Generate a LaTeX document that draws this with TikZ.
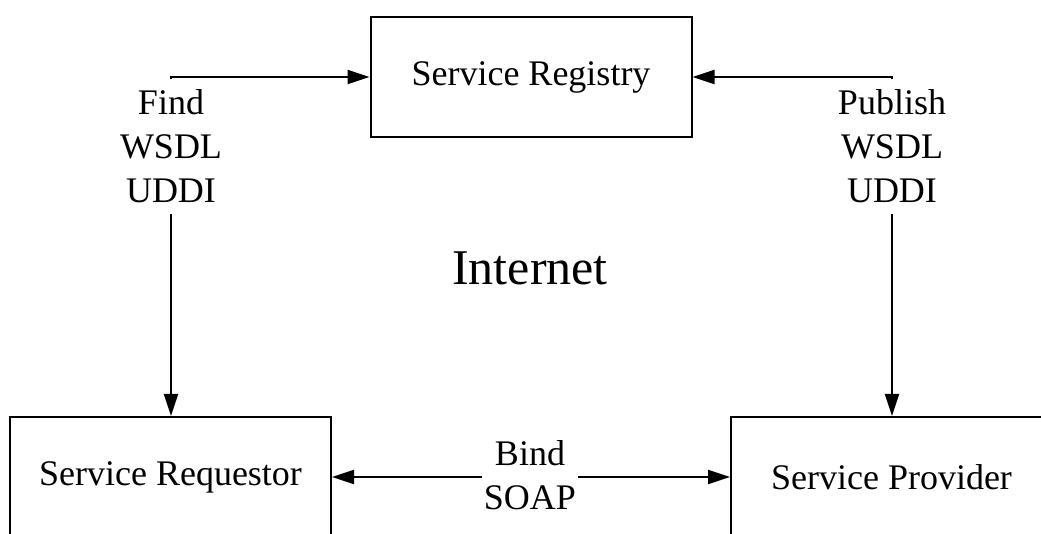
\documentclass[tikz,border=0pt]{standalone}
\usepackage{fontspec}
\setmainfont{Liberation Serif}
\usetikzlibrary{arrows.meta}

\begin{document}
\begin{tikzpicture}[x=0.5pt, y=0.5pt,
    box/.style={draw, line width=1pt, minimum width=160.5pt, minimum height=60pt,
      font=\fontsize{18}{22}\selectfont},
    lbl/.style={align=center, inner xsep=1pt, inner ysep=5pt,
      font=\fontsize{18}{22}\selectfont},
    conn/.style={line width=1pt, -{Triangle[length=11pt,width=7pt]}}]

      \useasboundingbox (0,0) rectangle (1041,534);

      \node[box] (reg) at (531,457) {Service Registry};
      \node[box] (req) at (170.5,57) {Service Requestor};
      \node[box] (prov) at (891.5,57) {Service Provider};

      \node[lbl] (find) at (171,387.5) {Find\\WSDL\\UDDI};
      \node[lbl] (publish) at (892,387.5) {Publish\\WSDL\\UDDI};
      \node[lbl] (bind) at (530,59) {Bind\\SOAP};

      \node[font=\fontsize{25}{30}\selectfont] (inet) at (530,266) {Internet};

      \draw[conn] (find.north) |- (reg.west);
      \draw[conn] (publish.north) |- (reg.east);
      \draw[conn] (find.south) -- (find.south |- req.north);
      \draw[conn] (publish.south) -- (publish.south |- prov.north);
      \draw[conn] (bind.west |- req.east) -- (req.east);
      \draw[conn] (bind.east |- prov.west) -- (prov.west);
    \end{tikzpicture}
\end{document}
